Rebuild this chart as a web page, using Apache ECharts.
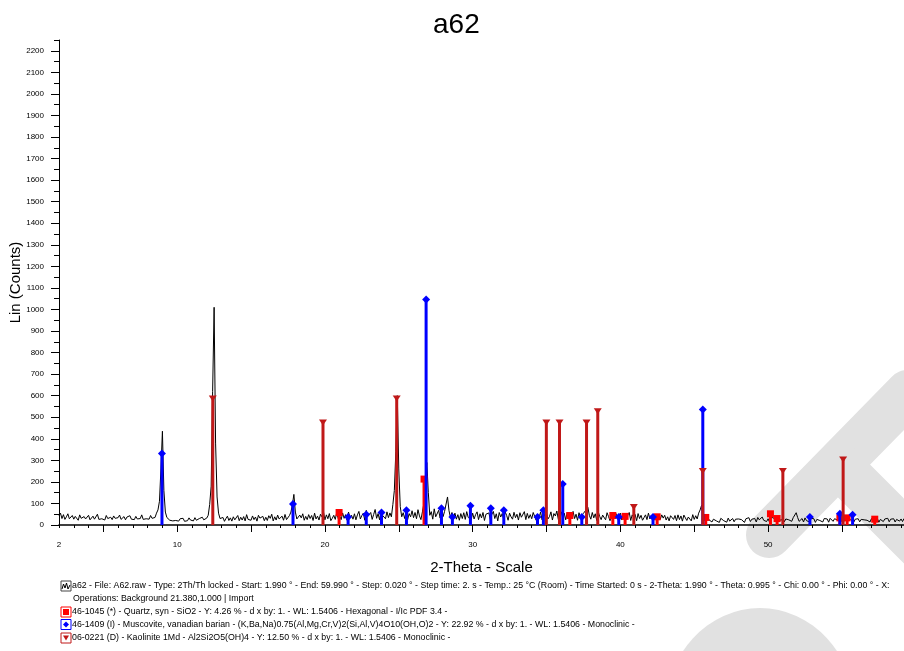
<!DOCTYPE html>
<html>
<head>
<meta charset="utf-8">
<script src="https://cdn.jsdelivr.net/npm/echarts@6/dist/echarts.min.js"></script>
<style>html,body{margin:0;padding:0;background:#fff;}#c{width:904px;height:651px;}</style>
</head>
<body>
<div id="c"></div>
<script>
// ---- Diffractogram (Lin counts), 2-Theta from 2.0 with step 0.1 ----
const thetaStart = 2.0;
const thetaStep = 0.1;
const counts = [
  42,55,30,48,26,38,52,29,35,44,
  27,40,33,22,47,31,25,39,28,36,
  45,24,30,41,27,35,50,26,32,29,
  38,23,44,30,27,36,25,42,31,28,
  34,46,26,31,39,24,37,29,43,27,
  33,25,40,28,36,30,47,26,34,29,
  38,27,44,31,26,35,55,70,110,260,
  435,160,60,35,28,22,30,19,26,21,
  24,18,29,22,31,17,25,20,33,23,
  27,19,34,22,26,30,21,36,24,28,
  32,45,95,180,620,1010,380,130,55,30,
  26,35,17,30,41,21,33,18,38,24,
  31,44,20,36,23,39,19,48,26,34,
  22,42,25,37,18,45,32,24,40,20,
  36,21,43,31,50,19,38,23,46,28,
  33,41,22,49,25,30,44,60,95,142,
  60,28,19,46,33,52,22,40,25,48,
  30,44,21,55,28,41,23,50,38,62,
  24,47,29,53,20,31,45,26,58,30,
  42,25,56,31,48,22,60,33,45,27,
  52,24,47,63,28,44,55,22,68,40,
  46,58,26,49,72,31,53,24,64,45,
  50,29,61,34,56,38,95,160,340,600,
  260,85,38,57,30,62,25,53,38,66,
  34,58,29,71,42,25,61,100,210,290,
  150,45,62,27,75,38,44,68,32,80,
  39,63,70,130,66,35,58,30,55,27,
  48,22,53,30,57,26,62,35,44,24,
  55,28,48,61,25,52,33,58,21,50,
  41,56,24,49,63,30,52,19,58,37,
  53,26,61,45,22,55,38,27,59,34,
  50,23,57,36,41,62,25,54,31,48,
  29,58,40,22,47,36,60,24,55,41,
  57,28,39,61,23,53,42,65,26,51,
  61,32,55,24,58,40,26,47,63,30,
  50,22,57,36,27,54,60,72,82,45,
  27,58,33,52,21,61,40,25,46,53,
  24,57,39,20,46,60,28,53,35,41,
  55,23,50,38,26,45,58,21,47,36,
  49,20,53,30,45,22,34,47,25,55,
  28,46,22,35,44,20,50,26,47,32,
  45,23,38,19,43,51,26,44,20,47,
  25,42,18,46,33,21,37,44,19,48,
  26,43,28,55,70,92,38,22,17,35,
  24,30,14,27,33,19,28,12,31,25,
  20,29,13,32,18,26,30,15,27,24,
  28,19,25,33,12,29,20,34,16,27,
  21,30,14,35,24,18,37,22,31,16,
  29,13,36,27,32,15,38,26,30,22,
  33,15,28,36,24,31,17,34,38,57,
  35,17,22,30,14,33,20,28,15,31,
  23,29,12,26,32,21,27,14,30,22,
  28,13,31,25,17,29,34,23,16,21,
  30,14,26,33,22,18,25,31,13,27,
  23,29,15,26,31,24,18,22,27,14,
  30,17,27,24,29,13,26,33,16,28,
  25,31,15,27,24,29,14,26,30,18,
  28,16,30,22,27,15,31,23,26,29
];

// ---- Reference patterns (stick positions in 2-Theta, heights in counts) ----
const quartzTheta  = [20.96, 26.71, 36.58, 39.49, 40.32, 42.49, 45.78, 50.16, 50.61, 54.86, 55.35, 57.22];
const quartzCounts = [58, 213, 44, 44, 40, 38, 35, 52, 30, 33, 33, 27];

const muscoviteTheta  = [8.97, 17.84, 21.57, 22.80, 23.83, 25.52, 26.85, 27.89, 28.63, 29.85, 31.23, 32.11, 34.39, 34.79, 36.10, 37.39, 39.89, 42.21, 45.58, 52.83, 54.86, 55.72];
const muscoviteCounts = [332, 98, 37, 49, 58, 68, 1046, 78, 37, 89, 78, 69, 37, 69, 190, 37, 37, 37, 536, 37, 52, 47];

const kaoliniteTheta  = [12.41, 19.87, 24.86, 34.99, 35.88, 37.71, 38.47, 40.91, 45.58, 51.00, 55.08];
const kaoliniteCounts = [587, 476, 587, 476, 476, 476, 528, 84, 250, 250, 304];

// ---- Axis ticks / labels ----
const xLabelValues = [2, 10, 20, 30, 40, 50];
const xMajorTicks = [5, 10, 15, 20, 25, 30, 35, 40, 45, 50, 55];
const xMinorTicks = []; for (let v = 2; v <= 59; v++) xMinorTicks.push(v);
const yMajorTicks = []; for (let v = 0; v <= 2200; v += 100) yMajorTicks.push(v);
const yMinorTicks = []; for (let v = 50; v <= 2250; v += 100) yMinorTicks.push(v);

const legendLines = [
  'a62 - File: A62.raw - Type: 2Th/Th locked - Start: 1.990 ° - End: 59.990 ° - Step: 0.020 ° - Step time: 2. s - Temp.: 25 °C (Room) - Time Started: 0 s - 2-Theta: 1.990 ° - Theta: 0.995 ° - Chi: 0.00 ° - Phi: 0.00 ° - X:',
  'Operations: Background 21.380,1.000 | Import',
  '46-1045 (*) - Quartz, syn - SiO2 - Y: 4.26 % - d x by: 1. - WL: 1.5406 - Hexagonal - I/Ic PDF 3.4 -',
  '46-1409 (I) - Muscovite, vanadian barian - (K,Ba,Na)0.75(Al,Mg,Cr,V)2(Si,Al,V)4O10(OH,O)2 - Y: 22.92 % - d x by: 1. - WL: 1.5406 - Monoclinic -',
  '06-0221 (D) - Kaolinite 1Md - Al2Si2O5(OH)4 - Y: 12.50 % - d x by: 1. - WL: 1.5406 - Monoclinic -'
];

const FONT = '"Liberation Sans", Arial, sans-serif';
const C_QUARTZ = '#ff0000', C_MUSC = '#0000ff', C_KAOL = '#c01818';

const patternData = counts.map((v, i) => [Math.round((thetaStart + i * thetaStep) * 100) / 100, v]);
const zip = (a, b) => a.map((t, i) => [t, b[i]]);

function stickRenderer(color, shape) {
  return function (params, api) {
    const x = api.value(0), y = api.value(1);
    const base = api.coord([x, 0]);
    const top = api.coord([x, y]);
    const tx = top[0], ty = top[1];
    const children = [{
      type: 'line',
      shape: { x1: base[0], y1: base[1], x2: tx, y2: ty },
      style: { stroke: color, lineWidth: 3 }
    }];
    if (shape === 'square') {
      children.push({ type: 'rect', shape: { x: tx - 3.5, y: ty - 3.5, width: 7, height: 7 }, style: { fill: color } });
    } else if (shape === 'diamond') {
      children.push({ type: 'polygon', shape: { points: [[tx, ty - 4], [tx + 4, ty], [tx, ty + 4], [tx - 4, ty]] }, style: { fill: color } });
    } else {
      children.push({ type: 'polygon', shape: { points: [[tx - 4, ty - 3], [tx + 4, ty - 3], [tx, ty + 3]] }, style: { fill: color } });
    }
    return { type: 'group', children };
  };
}

const chart = echarts.init(document.getElementById('c'), null, { renderer: 'canvas' });

const legendY = [586, 599, 612, 624.5, 638];
const graphics = [
  // watermark
  { type: 'line', silent: true, z: -10, shape: { x1: 769, y1: 535, x2: 908, y2: 393 }, style: { stroke: '#e1e1e1', lineWidth: 46, lineCap: 'round' } },
  { type: 'line', silent: true, z: -10, shape: { x1: 838, y1: 465, x2: 990, y2: 617 }, style: { stroke: '#e1e1e1', lineWidth: 46, lineCap: 'butt' } },
  { type: 'circle', silent: true, z: -10, x: 760, y: 712, scaleX: 95 / 104, shape: { cx: 0, cy: 0, r: 104 }, style: { fill: '#e1e1e1' } },
  // legend icons
  { type: 'rect', z: 10, shape: { x: 61, y: 581, width: 10, height: 10 }, style: { fill: '#fff', stroke: '#444', lineWidth: 1 } },
  { type: 'polyline', z: 10, shape: { points: [[62, 589], [63.5, 584], [65, 588], [66.5, 583], [68, 589], [70, 585]] }, style: { stroke: '#000', lineWidth: 1, fill: null } },
  { type: 'rect', z: 10, shape: { x: 61, y: 607, width: 10, height: 10 }, style: { fill: '#fff', stroke: C_QUARTZ, lineWidth: 1 } },
  { type: 'rect', z: 10, shape: { x: 63, y: 609, width: 6, height: 6 }, style: { fill: C_QUARTZ } },
  { type: 'rect', z: 10, shape: { x: 61, y: 619.5, width: 10, height: 10 }, style: { fill: '#fff', stroke: C_MUSC, lineWidth: 1 } },
  { type: 'polygon', z: 10, shape: { points: [[66, 621.5], [69, 624.5], [66, 627.5], [63, 624.5]] }, style: { fill: C_MUSC } },
  { type: 'rect', z: 10, shape: { x: 61, y: 633, width: 10, height: 10 }, style: { fill: '#fff', stroke: C_KAOL, lineWidth: 1 } },
  { type: 'polygon', z: 10, shape: { points: [[63, 635.5], [69, 635.5], [66, 640.5]] }, style: { fill: C_KAOL } }
];
legendLines.forEach((t, i) => {
  graphics.push({
    type: 'text', z: 10,
    x: i === 1 ? 73 : 72, y: legendY[i],
    style: { text: t, fill: '#000', font: '8.8px ' + FONT, verticalAlign: 'middle', align: 'left' }
  });
});

const axisCommon = { type: 'value', min: 2, max: 59.2, splitLine: { show: false } };
const yCommon = { type: 'value', min: 0, max: 2250, splitLine: { show: false } };

chart.setOption({
  animation: false,
  backgroundColor: '#fff',
  title: {
    text: 'a62', left: 428, top: 6,
    textStyle: { fontSize: 28, fontWeight: 'normal', color: '#000', fontFamily: FONT }
  },
  grid: { left: 59, right: 0, top: 40, bottom: 126, containLabel: false, outerBoundsMode: 'none' },
  xAxis: [
    Object.assign({}, axisCommon, {
      position: 'bottom',
      name: '2-Theta - Scale', nameLocation: 'middle', nameGap: 35, nameMoveOverlap: false,
      nameTextStyle: { fontSize: 15, color: '#000', fontFamily: FONT },
      axisLine: { show: true, onZero: false, lineStyle: { color: '#000', width: 1.5 } },
      axisTick: { show: true, length: 3, customValues: xMinorTicks, lineStyle: { color: '#000' } },
      axisLabel: { show: true, customValues: xLabelValues, margin: 16, fontSize: 8, color: '#000', fontFamily: FONT, formatter: v => String(v) }
    }),
    Object.assign({}, axisCommon, {
      position: 'bottom', offset: 0,
      axisLine: { show: false, onZero: false },
      axisTick: { show: true, length: 7, customValues: xMajorTicks, lineStyle: { color: '#000' } },
      axisLabel: { show: false }
    })
  ],
  yAxis: [
    Object.assign({}, yCommon, {
      position: 'left',
      name: 'Lin (Counts)', nameLocation: 'middle', nameGap: 36, nameMoveOverlap: false,
      nameTextStyle: { fontSize: 15, color: '#000', fontFamily: FONT },
      axisLine: { show: true, onZero: false, lineStyle: { color: '#000', width: 1 } },
      axisTick: { show: true, length: 8, customValues: yMajorTicks, lineStyle: { color: '#000' } },
      axisLabel: { show: true, customValues: yMajorTicks, margin: 15, fontSize: 8, color: '#000', fontFamily: FONT, formatter: v => String(v) }
    }),
    Object.assign({}, yCommon, {
      position: 'left', offset: 0,
      axisLine: { show: false, onZero: false },
      axisTick: { show: true, length: 5, customValues: yMinorTicks, lineStyle: { color: '#000' } },
      axisLabel: { show: false }
    })
  ],
  graphic: { elements: graphics },
  series: [
    {
      name: 'a62', type: 'line', xAxisIndex: 0, yAxisIndex: 0,
      data: patternData, showSymbol: false, symbol: 'none',
      lineStyle: { color: '#000', width: 1 }, z: 2
    },
    {
      name: 'Quartz', type: 'custom', xAxisIndex: 0, yAxisIndex: 0,
      data: zip(quartzTheta, quartzCounts), encode: { x: 0, y: 1 },
      renderItem: stickRenderer(C_QUARTZ, 'square'), z: 3
    },
    {
      name: 'Muscovite', type: 'custom', xAxisIndex: 0, yAxisIndex: 0,
      data: zip(muscoviteTheta, muscoviteCounts), encode: { x: 0, y: 1 },
      renderItem: stickRenderer(C_MUSC, 'diamond'), z: 3
    },
    {
      name: 'Kaolinite', type: 'custom', xAxisIndex: 0, yAxisIndex: 0,
      data: zip(kaoliniteTheta, kaoliniteCounts), encode: { x: 0, y: 1 },
      renderItem: stickRenderer(C_KAOL, 'triangle'), z: 3
    }
  ]
});
</script>
</body>
</html>
